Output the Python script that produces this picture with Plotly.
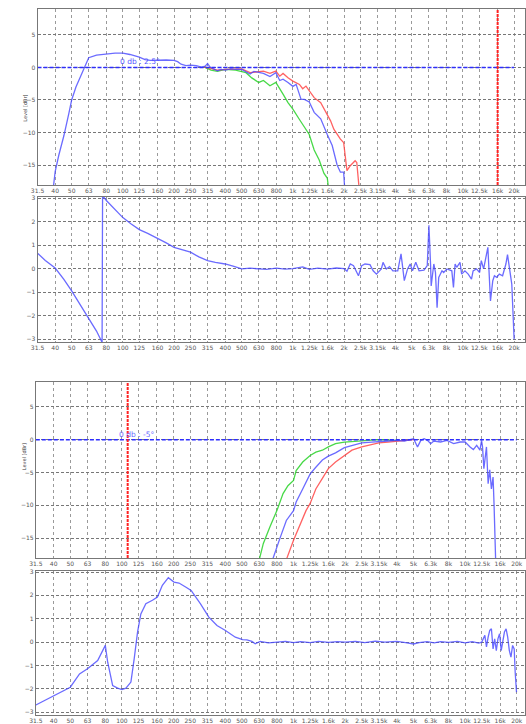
import math
import plotly.graph_objects as go

# ---------------- axis ticks (1/3-octave) ----------------
TICK_HZ = [31.5, 40, 50, 63, 80, 100, 125, 160, 200, 250, 315, 400, 500, 630, 800,
           1000, 1250, 1600, 2000, 2500, 3150, 4000, 5000, 6300, 8000, 10000,
           12500, 16000, 20000]
TICK_TXT = ["31.5", "40", "50", "63", "80", "100", "125", "160", "200", "250", "315",
            "400", "500", "630", "800", "1k", "1.25k", "1.6k", "2k", "2.5k", "3.15k",
            "4k", "5k", "6.3k", "8k", "10k", "12.5k", "16k", "20k"]
LEVEL_TICKS = [-15, -10, -5, 0, 5]
PHASE_TICKS = [-3, -2, -1, 0, 1, 2, 3]

REF_LEVEL_DB = 0
REF_LABEL_TOP = "0 db : 2.5°"
REF_LABEL_BOTTOM = "0 db : -5°"
XOVER_TOP_HZ = 16000
XOVER_BOTTOM_HZ = 108

# ---------------- top group: level ----------------
lvl1_blue_hz = [39, 40, 42, 45, 48, 50, 53, 56, 60, 63, 70, 80, 90, 100, 110, 125, 135,
                145, 160, 180, 200, 210, 220, 235, 250, 270, 290, 305, 315, 325, 340,
                360, 380, 400, 430, 460, 500, 530, 560, 590, 630, 671, 733, 794, 837,
                875, 936, 1000, 1045, 1117, 1168, 1248, 1334, 1458, 1593, 1666, 1703,
                1820, 1903, 1988, 2016]
lvl1_blue_db = [-18.5, -16.0, -13.5, -10.5, -7.2, -5.0, -3.0, -1.5, 0.3, 1.5, 1.9, 2.1,
                2.2, 2.2, 2.0, 1.6, 1.2, 1.1, 1.15, 1.15, 1.1, 0.9, 0.5, 0.3, 0.35, 0.3,
                0.05, 0.2, 0.6, 0.1, -0.2, -0.5, -0.3, -0.4, -0.2, -0.3, -0.3, -0.7,
                -1.0, -0.6, -0.8, -0.9, -1.4, -0.8, -2.0, -1.8, -2.3, -2.9, -2.6, -4.9,
                -4.9, -5.3, -6.9, -7.9, -10.3, -11.5, -12.0, -15.0, -16.1, -16.1, -18.5]

lvl1_red_hz = [300, 330, 360, 400, 460, 500, 560, 630, 671, 733, 794, 837, 875, 936,
               1000, 1093, 1142, 1194, 1276, 1334, 1458, 1593, 1666, 1741, 1903, 1988,
               2080, 2175, 2323, 2375, 2451]
lvl1_red_db = [0.1, -0.1, -0.4, -0.3, -0.2, -0.2, -0.8, -0.6, -0.56, -0.9, -0.56, -1.33,
               -0.92, -1.58, -2.09, -2.6, -3.27, -2.86, -3.88, -4.64, -5.41, -7.19,
               -8.21, -9.49, -11.02, -11.53, -15.87, -15.1, -14.34, -14.6, -18.5]

lvl1_green_hz = [300, 330, 360, 400, 460, 500, 530, 573, 630, 671, 733, 794, 837, 875,
                 936, 1000, 1093, 1168, 1248, 1334, 1426, 1524, 1593, 1620]
lvl1_green_db = [0.1, -0.4, -0.6, -0.3, -0.4, -0.6, -0.8, -1.6, -2.3, -2.0, -2.8, -2.3,
                 -3.4, -4.1, -5.4, -6.4, -8.0, -9.2, -10.3, -12.7, -14.2, -16.3, -17.0,
                 -18.5]

# ---------------- top group: phase ----------------
ph1_hz = [31.5, 35, 40, 45, 50, 56, 63, 70, 75.5, 76, 80, 90, 100, 112, 125, 140, 160,
          180, 200, 225, 250, 280, 315, 350, 400, 450, 500, 560, 630, 700, 800, 900,
          1000, 1142, 1250, 1400, 1600, 1800, 2000, 2080, 2175, 2273, 2430, 2540, 2655,
          2840, 2966, 3100, 3314, 3389, 3543, 3703, 3871, 4137, 4325, 4521, 4726, 4898,
          5050, 5281, 5521, 5902, 6169, 6310, 6449, 6506, 6742, 6894, 7047, 7205, 7531,
          7700, 8050, 8603, 8796, 8993, 9195, 9402, 9612, 9828, 10275, 10741, 11228,
          11478, 12000, 12540, 12826, 13233, 13711, 14017, 14330, 14520, 14980, 15316,
          15800, 16370, 17110, 17890, 18290, 18700, 19120, 19380, 19730, 20000]
ph1_val = [0.66, 0.35, 0.03, -0.45, -0.94, -1.5, -2.1, -2.65, -3.13, 3.1, 2.9, 2.5, 2.17,
           1.9, 1.66, 1.5, 1.3, 1.1, 0.91, 0.8, 0.7, 0.5, 0.34, 0.27, 0.2, 0.1, -0.01,
           0.02, 0.0, -0.03, 0.02, -0.02, 0.0, 0.08, -0.03, 0.02, -0.02, 0.03, 0.0,
           -0.11, 0.2, 0.13, -0.3, 0.13, 0.2, 0.17, -0.09, -0.23, -0.01, 0.27, -0.01,
           0.09, -0.09, -0.09, 0.63, -0.51, -0.01, 0.2, -0.09, 0.27, -0.09, -0.06, 0.13,
           1.84, 0.2, -0.73, 0.2, -0.16, -1.66, -0.37, -0.09, -0.16, -0.01, -0.09, -0.8,
           0.2, 0.06, 0.2, 0.27, -0.23, -0.09, -0.23, -0.44, -0.09, -0.01, -0.16, 0.34,
           -0.01, 0.56, 0.91, -0.51, -1.37, -0.51, -0.3, -0.37, -0.23, -0.3, 0.2, 0.6,
           -0.01, -0.37, -0.66, -1.94, -3.0]

# ---------------- bottom group: level ----------------
lvl2_green_hz = [628, 667, 728, 800, 869, 928, 1000, 1036, 1131, 1250, 1349, 1473, 1595,
                 1757, 1979, 2288, 2730, 3115, 3555, 3970]
lvl2_green_db = [-18.5, -15.8, -13.3, -10.8, -8.2, -7.0, -6.2, -4.7, -3.4, -2.4, -1.9,
                 -1.6, -1.1, -0.6, -0.36, -0.2, -0.1, 0.0, -0.05, -0.1]

lvl2_red_hz = [905, 916, 1000, 1082, 1182, 1250, 1349, 1473, 1595, 1757, 1979, 2190,
               2499, 2852, 3140, 3555, 3970, 4430, 5010]
lvl2_red_db = [-18.5, -18.0, -15.3, -13.3, -10.8, -9.7, -7.5, -5.9, -4.4, -3.4, -2.4,
               -1.6, -1.1, -0.7, -0.5, -0.36, -0.25, -0.2, 0.0]

lvl2_blue_hz = [755, 761, 831, 908, 1000, 1036, 1131, 1250, 1349, 1473, 1595, 1757,
                1979, 2190, 2499, 2852, 3140, 3555, 3970, 4430, 5010, 5280, 5520, 5770,
                6030, 6300, 6580, 7190, 7850, 8570, 9360, 10000, 10690, 11170, 11680,
                12200, 12470, 12630, 12860, 13320, 13620, 13920, 14230, 14550, 14740,
                15070]
lvl2_blue_db = [-18.5, -18.0, -15.1, -12.3, -10.8, -9.5, -7.5, -5.2, -4.2, -3.1, -2.5,
                -2.0, -1.2, -0.9, -0.5, -0.36, -0.25, -0.2, -0.1, -0.2, 0.15, -1.1,
                -0.1, 0.15, -0.1, -0.6, -0.2, -0.35, -0.1, -0.6, -0.35, -0.35, -1.1,
                -1.5, -0.85, -1.6, -0.1, -1.1, -4.4, -1.1, -6.7, -4.6, -7.5, -5.7,
                -9.7, -18.5]

# ---------------- bottom group: phase ----------------
ph2_hz = [31.5, 40, 50, 56.6, 63, 72.2, 80, 82.6, 88.3, 94.4, 100, 105.5, 112.8, 117.9,
          123.3, 128.9, 137.8, 150.6, 161, 172, 186.4, 201, 215, 235, 253, 287, 321,
          358, 401, 458, 505, 535, 572, 598, 639, 714, 800, 900, 1000, 1100, 1250, 1400,
          1600, 1800, 2000, 2300, 2600, 3000, 3400, 4000, 4500, 5000, 5400, 6000, 6600,
          7200, 8000, 9000, 10000, 11000, 12000, 12500, 13030, 13320, 13620, 13920,
          14230, 14550, 14870, 15200, 15530, 15880, 16230, 16590, 16950, 17330, 17710,
          18100, 18500, 18910, 19320, 19580, 19930]
ph2_val = [-2.69, -2.29, -1.93, -1.36, -1.14, -0.79, -0.14, -0.86, -1.86, -1.97, -2.03,
           -1.97, -1.71, -0.71, 0.43, 1.21, 1.64, 1.79, 1.93, 2.43, 2.76, 2.57, 2.53,
           2.36, 2.21, 1.64, 1.07, 0.71, 0.5, 0.21, 0.11, 0.1, 0.03, -0.07, 0.03, -0.03,
           0.0, 0.03, -0.02, 0.02, -0.02, 0.03, -0.01, 0.02, 0.0, 0.03, -0.02, 0.04, 0.0,
           0.03, -0.02, -0.08, -0.02, 0.02, -0.03, 0.02, -0.01, 0.03, -0.03, 0.02, -0.04,
           0.0, 0.29, -0.2, 0.21, 0.5, 0.57, -0.29, 0.14, -0.36, 0.14, 0.36, -0.36, 0.14,
           0.43, 0.57, 0.21, -0.36, -0.64, -0.14, -0.29, -1.29, -2.14]

# ---------------- styling ----------------
W, H = 526, 724
BLUE = "rgba(70,70,255,0.8)"
RED = "rgba(255,70,70,0.85)"
GREEN = "rgba(40,210,40,0.85)"
REF_BLUE = "#2d2dff"
MARK_RED = "#ff2222"
FONT = "DejaVu Sans"

# panel boxes in pixels: (top, bottom)
PANELS = [(6, 183), (195, 341), (381, 558), (571, 716)]
LEVEL_RANGE_TOP = [-18.07, 9.0]
LEVEL_RANGE_BOTTOM = [-18.0, 8.8]
PHASE_RANGE = [-3.12, 3.05]


def ydom(top, bottom):
    return [1 - bottom / H, 1 - top / H]


fig = go.Figure()


def line(x, y, color, axis, width=1.3):
    fig.add_trace(go.Scatter(x=x, y=y, mode="lines", xaxis="x" + axis, yaxis="y" + axis,
                             line=dict(color=color, width=width), hoverinfo="skip",
                             showlegend=False, cliponaxis=True))


# top level panel
line(lvl1_green_hz, lvl1_green_db, GREEN, "")
line(lvl1_red_hz, lvl1_red_db, RED, "")
line(lvl1_blue_hz, lvl1_blue_db, BLUE, "")
# top phase panel
line(ph1_hz, ph1_val, BLUE, "2")
# bottom level panel
line(lvl2_green_hz, lvl2_green_db, GREEN, "3")
line(lvl2_red_hz, lvl2_red_db, RED, "3")
line(lvl2_blue_hz, lvl2_blue_db, BLUE, "3")
# bottom phase panel
line(ph2_hz, ph2_val, BLUE, "4")

# 0 dB reference lines
for ax in ["", "3"]:
    fig.add_trace(go.Scatter(x=[TICK_HZ[0], TICK_HZ[-1]], y=[REF_LEVEL_DB, REF_LEVEL_DB],
                             mode="lines", xaxis="x" + ax, yaxis="y" + ax,
                             line=dict(color=REF_BLUE, width=1.6, dash="4px,2px"),
                             hoverinfo="skip", showlegend=False))

# crossover markers
shapes = []
for ax, hz in [("", XOVER_TOP_HZ), ("3", XOVER_BOTTOM_HZ)]:
    shapes.append(dict(type="line", xref="x" + ax, yref=("y" + ax) + " domain",
                       x0=hz, x1=hz, y0=0, y1=1,
                       line=dict(color=MARK_RED, width=2, dash="3px,1px")))

annotations = [
    dict(text=REF_LABEL_TOP, x=math.log10(100), y=REF_LEVEL_DB, xref="x", yref="y",
         xanchor="left", yanchor="bottom", showarrow=False, xshift=-5, yshift=-1,
         font=dict(family=FONT, size=7.5, color="#5050ff")),
    dict(text=REF_LABEL_BOTTOM, x=math.log10(100), y=REF_LEVEL_DB, xref="x3", yref="y3",
         xanchor="left", yanchor="bottom", showarrow=False, xshift=-5, yshift=-1,
         font=dict(family=FONT, size=7.5, color="#6a6aff")),
]
for center_px in [90, 456]:
    annotations.append(dict(text="Level [dBr]", textangle=-90, x=13 / W, y=1 - center_px / H,
                            xref="paper", yref="paper", showarrow=False,
                            font=dict(family=FONT, size=5, color="#333")))

tickfont = dict(family=FONT, size=6, color="#555")


def xaxis(anchor, left_px, end_log):
    return dict(type="log", domain=[left_px / W, 1], anchor=anchor,
                range=[math.log10(TICK_HZ[0]), end_log],
                tickvals=TICK_HZ, ticktext=TICK_TXT, tickfont=tickfont, ticks="",
                tickangle=0,
                showgrid=True, gridcolor="#9a9a9a", gridwidth=1, griddash="dot",
                showline=True, linecolor="#777", linewidth=1, mirror=True,
                zeroline=False)


def yaxis(anchor, dom, rng, ticks):
    return dict(domain=dom, anchor=anchor, range=rng, tickvals=ticks,
                tickfont=tickfont, ticks="", showgrid=True, gridcolor="#777",
                gridwidth=1, griddash="3px,2px", showline=True, linecolor="#777",
                linewidth=1, mirror=True, zeroline=False)


TOP_END = 4.365
BOTTOM_END = 4.349

fig.update_layout(
    width=W, height=H, margin=dict(l=0, r=0, t=0, b=0),
    paper_bgcolor="white", plot_bgcolor="white",
    font=dict(family=FONT),
    xaxis=xaxis("y", 31, TOP_END),
    xaxis2=xaxis("y2", 31, TOP_END),
    xaxis3=xaxis("y3", 29.3, BOTTOM_END),
    xaxis4=xaxis("y4", 29.3, BOTTOM_END),
    yaxis=yaxis("x", ydom(*PANELS[0]), LEVEL_RANGE_TOP, LEVEL_TICKS),
    yaxis2=yaxis("x2", ydom(*PANELS[1]), PHASE_RANGE, PHASE_TICKS),
    yaxis3=yaxis("x3", ydom(*PANELS[2]), LEVEL_RANGE_BOTTOM, LEVEL_TICKS),
    yaxis4=yaxis("x4", ydom(*PANELS[3]), PHASE_RANGE, PHASE_TICKS),
    shapes=shapes, annotations=annotations,
)

fig.write_html("out.html")
